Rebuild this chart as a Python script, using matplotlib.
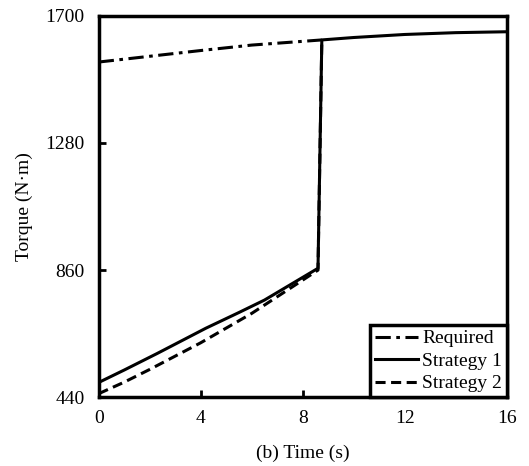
import matplotlib.pyplot as plt

plt.rcParams['font.family'] = ['Liberation Serif', 'DejaVu Serif']

# required torque
t_req = [0, 2, 4, 6, 8.75]
torque_req = [1547, 1566, 1585, 1603, 1620]

# strategy 1
t_s1 = [0, 1, 2.3, 4.2, 5.5, 6.5, 8.6, 8.75, 10, 12, 14, 16]
torque_s1 = [489, 530, 585, 668, 720, 761, 866, 1620, 1628, 1638, 1644, 1647]

# strategy 2
t_s2 = [0, 1, 2, 4, 6, 8.6, 8.75]
torque_s2 = [452, 490, 532, 620, 717, 860, 1620]

fig = plt.figure(figsize=(5.29, 4.66), dpi=100)
ax = fig.add_axes([98.7 / 529, 1 - 397.3 / 466, 408 / 529, 381.6 / 466])

ax.plot(t_req, torque_req, color='black', lw=2.2, linestyle=(0, (5, 1.8, 1.2, 1.8)), label='Required')
ax.plot(t_s2, torque_s2, color='black', lw=2.2, linestyle=(0, (3.3, 1.8)), label='Strategy 2')
ax.plot(t_s1, torque_s1, color='black', lw=2.2, label='Strategy 1')

ax.set_xlim(0, 16)
ax.set_ylim(440, 1700)
ax.set_xticks([0, 4, 8, 12, 16])
ax.set_yticks([440, 860, 1280, 1700])
ax.tick_params(direction='in', length=5, width=2, labelsize=14)
ax.tick_params(axis='x', pad=9)
ax.tick_params(axis='y', pad=10)
for s in ax.spines.values():
    s.set_linewidth(2.5)

ax.set_xlabel('(b) Time (s)', fontsize=14, labelpad=13)
ax.set_ylabel('Torque (N·m)', fontsize=14, labelpad=9)

h, l = ax.get_legend_handles_labels()
order = [0, 2, 1]
leg = ax.legend([h[i] for i in order], [l[i] for i in order], loc='lower right',
                borderaxespad=0, fancybox=False, edgecolor='black', fontsize=14,
                handlelength=2.2, handletextpad=0.2, labelspacing=0.25,
                borderpad=0.25, framealpha=1)
leg.get_frame().set_linewidth(2.5)

plt.savefig('out.png', dpi=100)
